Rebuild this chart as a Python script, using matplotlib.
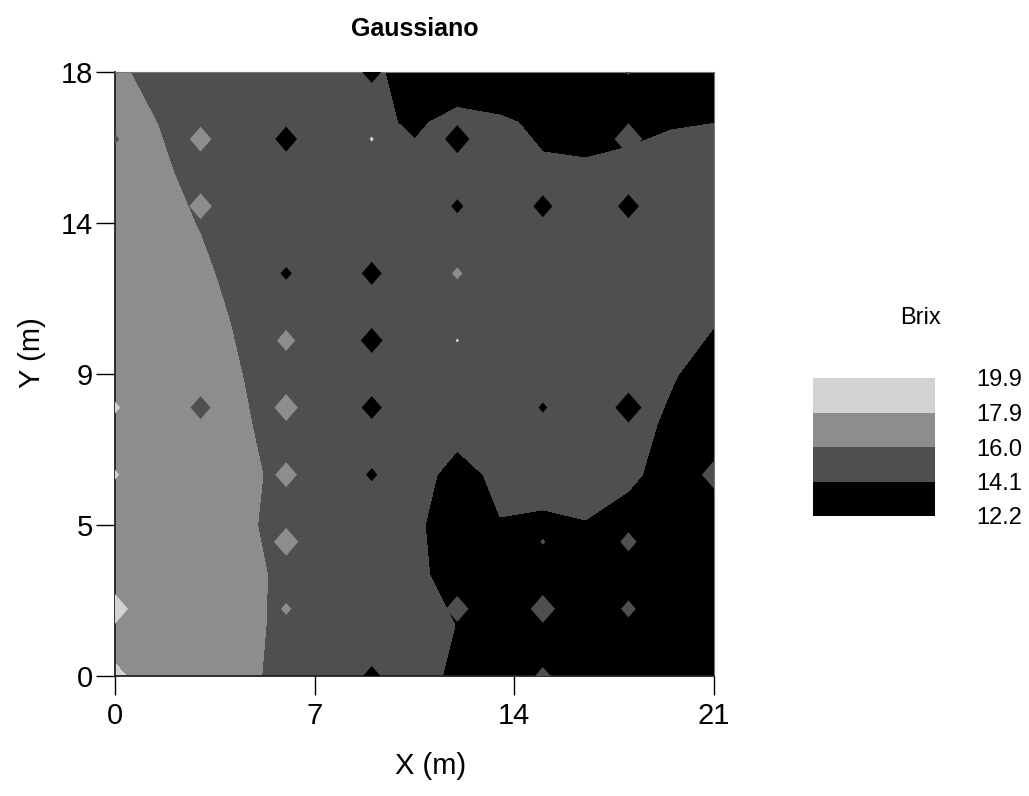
import matplotlib
matplotlib.use("Agg")
import matplotlib.pyplot as plt
import numpy as np
from matplotlib.colors import ListedColormap, BoundaryNorm

# kriging grid nodes (m)
x_nodes = [0, 1.5, 3, 4.5, 6, 7.5, 9, 10.5, 12, 13.5, 15, 16.5, 18, 19.5, 21]
y_nodes = [0, 1.5, 3, 4.5, 6, 7.5, 9, 10.5, 12, 13.5, 15, 16.5, 18]

# Brix estimated at each node, one row per y node (bottom -> top)
brix = [
    [18.2, 17, 17, 16.75, 15, 15, 15, 15, 13.62, 13.2, 13.2, 13.2, 13.2, 13.2, 13.2],
    [17, 17, 17, 17.13, 15, 15, 15, 15, 14.05, 13.2, 13.2, 13.2, 13.2, 13.2, 13.2],
    [17, 17, 17, 17.3, 15, 15, 15, 14.6, 13.2, 13.2, 13.2, 13.2, 13.2, 13.2, 13.2],
    [17, 17, 17, 16.5, 15, 15, 15, 14.4, 13.2, 14.0, 13.71, 14.0, 13.2, 13.2, 13.2],
    [17, 17, 17, 16.85, 15, 15, 15, 15, 13.3, 14.63, 15, 15, 14.54, 13.2, 13.2],
    [17, 17, 17, 16.25, 15, 15, 15, 15, 15, 15, 15, 15, 15, 13.66, 13.2],
    [17, 17, 17, 15.97, 15, 15, 15, 15, 15, 15, 15, 15, 15, 14.3, 13.2],
    [17, 17, 17, 15.57, 15, 15, 15, 15, 15, 15, 15, 15, 15, 15, 14.17],
    [17, 17, 16.5, 15, 15, 15, 15, 15, 15, 15, 15, 15, 15, 15, 15],
    [17, 17, 15.85, 15, 15, 15, 15, 15, 15, 15, 15, 15, 15, 15, 15],
    [17, 16.6, 15, 15, 15, 15, 15, 14.5, 15, 15, 14.24, 14.47, 15.04, 15, 15],
    [17, 15.97, 15, 15, 15, 15, 14.4, 13.9, 14.48, 14.25, 13.9, 13.2, 13.2, 13.94, 14.08],
    [16.55, 15, 15, 15, 15, 15, 14.5, 13.2, 13.2, 13.2, 13.2, 13.2, 13.2, 13.2, 13.2],
]

# sampled points that show up as diamonds (observed Brix)
pt_x = [0, 3, 6, 9, 12, 18, 9, 18,
        3, 12, 15, 18,
        6, 9, 12,
        6, 9, 12,
        0, 3, 6, 9, 15, 18,
        0, 6, 9, 21,
        6, 15, 18,
        0, 6, 12, 15, 18,
        9, 15]
pt_y = [16, 16, 16, 16, 16, 16, 18, 18,
        14, 14, 14, 14,
        12, 12, 12,
        10, 10, 10,
        8, 8, 8, 8, 8, 8,
        6, 6, 6, 6,
        4, 4, 4,
        2, 2, 2, 2, 2,
        0, 0]
pt_brix = [15.0, 17.0, 13.2, 18.9, 13.2, 15.0, 13.2, 15.0,
           17.0, 13.2, 13.2, 13.2,
           13.2, 13.2, 17.0,
           17.0, 13.2, 18.9,
           18.9, 15.0, 17.0, 13.2, 13.2, 13.2,
           18.9, 17.0, 13.2, 15.0,
           17.0, 15.0, 15.0,
           18.9, 17.0, 15.0, 15.0, 15.0,
           13.2, 15.0]

levels = [12.2, 14.1, 16.0, 17.9, 19.9]
level_labels = ["12.2", "14.1", "16.0", "17.9", "19.9"]
grays = ["#000000", "#4f4f4f", "#8d8d8d", "#d2d2d2"]

# diamond heights in pixels (style only)
pt_h = [10, 25, 25, 5, 28, 32, 22, 6,
        26, 14, 22, 24,
        13, 23, 12,
        21, 25, 4,
        12, 23, 27, 23, 10, 30,
        10, 25, 13, 28,
        28, 6, 19,
        30, 12, 26, 28, 17,
        20, 18]

font = ["Liberation Sans", "DejaVu Sans"]
plt.rcParams["font.family"] = font

fig = plt.figure(figsize=(10.29, 7.96), dpi=100)
ax = fig.add_axes([115 / 1029, 1 - 676 / 796, 599 / 1029, 604 / 796])

cmap = ListedColormap(grays)
norm = BoundaryNorm(levels, cmap.N)

cf = ax.contourf(x_nodes, y_nodes, np.array(brix), levels=levels, colors=grays)

diamond = [(0, 1.15), (1, 0), (0, -1.15), (-1, 0)]
ax.scatter(pt_x, pt_y, c=pt_brix, cmap=cmap, norm=norm, marker=diamond,
           s=(np.array(pt_h) * 0.72) ** 2, linewidths=0, zorder=3)

ax.set_xlim(0, 21)
ax.set_ylim(0, 18)
ax.set_xticks([0, 7, 14, 21])
ax.set_xticklabels(["0", "7", "14", "21"])
ax.set_yticks([0, 4.5, 9, 13.5, 18])
ax.set_yticklabels(["0", "5", "9", "14", "18"])
ax.tick_params(direction="out", length=14, width=1.0, labelsize=21)
ax.tick_params(axis="x", pad=5)
ax.tick_params(axis="y", pad=2)

for s in ["left", "bottom"]:
    ax.spines[s].set_linewidth(1.3)
    ax.spines[s].set_color("#222222")
for s in ["top", "right"]:
    ax.spines[s].set_linewidth(0.8)
    ax.spines[s].set_color("#777777")

ax.set_xlabel("X (m)", fontsize=21)
ax.set_ylabel("Y (m)", fontsize=21)
ax.xaxis.set_label_coords(0.526, -0.125)
ax.yaxis.set_label_coords(-0.115, 0.536)
ax.set_title("Gaussiano", fontweight="bold", fontsize=18, pad=26)

# legend bar
cax = fig.add_axes([813 / 1029, 1 - 516 / 796, 122 / 1029, 138 / 796])
cb = fig.colorbar(cf, cax=cax, ticks=levels)
cb.outline.set_visible(False)
cb.set_ticklabels(level_labels)
cax.tick_params(length=0, pad=30, labelsize=17)
fig.text(921 / 1029, 1 - 318 / 796, "Brix", fontsize=17, ha="center", va="center")

fig.savefig("out.png", dpi=100)
